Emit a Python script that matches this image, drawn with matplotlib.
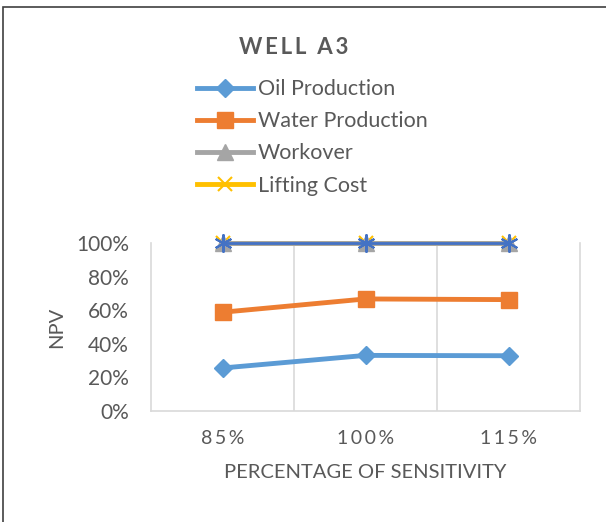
import matplotlib.pyplot as plt
from matplotlib.patches import Rectangle

# Daten
kategorien = ["85%", "100%", "115%"]
oil_production = [0.256, 0.331, 0.329]
water_production = [0.588, 0.667, 0.663]
workover = [1.0, 1.0, 1.0]
lifting_cost = [1.0, 1.0, 1.0]
summe = [1.0, 1.0, 1.0]  # oberste Linie ohne Legendeneintrag
y_ticks = [0, 0.2, 0.4, 0.6, 0.8, 1.0]

plt.rcParams['font.family'] = ['Lato', 'DejaVu Sans']
grau = "#595959"
thin = "\u2009"

fig = plt.figure(figsize=(6.06, 5.22), dpi=100)
fig.patches.append(Rectangle((3 / 606, -0.1), 1.1, 1 - 7 / 522 + 0.1, transform=fig.transFigure,
                             fill=False, edgecolor="#404040", linewidth=1.2))

ax = fig.add_axes([151 / 606, 1 - 411 / 522, 429 / 606, 168 / 522])
x = range(len(kategorien))

ax.plot(x, oil_production, color="#5B9BD5", linewidth=3.5, marker="D", markersize=9,
        label="Oil Production", clip_on=False)
ax.plot(x, water_production, color="#ED7D31", linewidth=3.5, marker="s", markersize=11,
        label="Water Production", clip_on=False)
ax.plot(x, lifting_cost, color="#FFC000", linewidth=3.5, marker="x", markersize=10,
        markeredgewidth=1.5, label="Lifting Cost", clip_on=False, zorder=2)
ax.plot(x, workover, color="#A5A5A5", linewidth=3.5, marker="^", markersize=12,
        label="Workover", clip_on=False, zorder=2.1)
ax.plot(x, summe, color="#4472C4", linewidth=2, marker=(6, 2, 0), markersize=13,
        markeredgewidth=1.5, label="_nolegend_", clip_on=False, zorder=2.2)

ax.set_xlim(-0.5, 2.5)
ax.set_ylim(0, 1)
ax.set_xticks(list(x))
ax.set_xticklabels([thin.join(k) for k in kategorien], fontsize=14, color=grau)
ax.set_yticks(y_ticks)
ax.set_yticklabels([f"{int(v * 100)}%" for v in y_ticks], fontsize=15, color=grau)
ax.tick_params(length=0, pad=16)
ax.tick_params(axis="x", pad=14)

for g in [0.5, 1.5]:
    ax.axvline(g, color="#D9D9D9", linewidth=1.2, zorder=0)
for s in ["left", "right", "bottom"]:
    ax.spines[s].set_color("#D9D9D9")
    ax.spines[s].set_linewidth(1.2)
ax.spines["top"].set_visible(False)

ax.set_xlabel("PERCENTAGE OF SENSITIVITY", fontsize=14.5, color=grau, labelpad=12)
ax.set_ylabel("NPV", fontsize=14.5, color=grau, labelpad=8)

fig.text(294 / 606, 1 - 47 / 522, thin.join("WELL A3"), ha="center", va="center",
         fontsize=16, fontweight="bold", color=grau)

handles, labels = ax.get_legend_handles_labels()
order = ["Oil Production", "Water Production", "Workover", "Lifting Cost"]
handles = [handles[labels.index(n)] for n in order]
leg = fig.legend(handles, order, loc="upper left", bbox_to_anchor=(178 / 606, 1 - 60 / 522),
                 frameon=False, fontsize=15.5, handlelength=2.6, labelspacing=0.56,
                 handletextpad=0.2, labelcolor=grau)

fig.savefig("out.png", dpi=100)
